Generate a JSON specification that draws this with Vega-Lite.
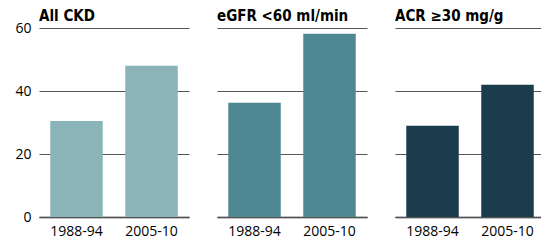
{
  "$schema": "https://vega.github.io/schema/vega-lite/v6.json",
  "padding": {"left": 14, "top": 9, "right": 0, "bottom": 0},
  "data": {"values": [
    {"panel": "All CKD", "period": "1988-94", "value": 30.5},
    {"panel": "All CKD", "period": "2005-10", "value": 48.0},
    {"panel": "eGFR <60 ml/min", "period": "1988-94", "value": 36.3},
    {"panel": "eGFR <60 ml/min", "period": "2005-10", "value": 58.2},
    {"panel": "ACR ≥30 mg/g", "period": "1988-94", "value": 29.0},
    {"panel": "ACR ≥30 mg/g", "period": "2005-10", "value": 42.0}
  ]},
  "facet": {
    "column": {
      "field": "panel", "type": "nominal",
      "sort": ["All CKD", "eGFR <60 ml/min", "ACR ≥30 mg/g"],
      "header": {
        "title": null,
        "labelAnchor": "start",
        "labelAlign": "left",
        "labelFont": "DejaVu Sans Condensed, Roboto, sans-serif",
        "labelFontWeight": "bold",
        "labelFontSize": 15,
        "labelColor": "#000000",
        "labelPadding": 4
      }
    }
  },
  "spacing": 28,
  "spec": {
    "width": 150,
    "height": 189,
    "mark": {"type": "bar"},
    "encoding": {
      "x": {
        "field": "period", "type": "nominal",
        "scale": {"paddingInner": 0.3, "paddingOuter": 0.15},
        "axis": {"title": null, "labelAngle": 0, "ticks": false, "labelPadding": 7, "domain": true, "domainColor": "#000000", "domainWidth": 1.5}
      },
      "y": {
        "field": "value", "type": "quantitative",
        "scale": {"domain": [0, 60], "nice": false},
        "axis": {"title": null, "values": [0, 20, 40, 60], "ticks": false, "domain": false, "labelPadding": 8, "grid": true, "gridColor": "#555555", "gridWidth": 1, "gridOpacity": 1}
      },
      "color": {
        "field": "panel", "type": "nominal",
        "scale": {"domain": ["All CKD", "eGFR <60 ml/min", "ACR ≥30 mg/g"], "range": ["#8bb4b8", "#4f8893", "#1a3c4d"]},
        "legend": null
      }
    }
  },
  "config": {
    "view": {"stroke": null},
    "axis": {"labelFont": "Open Sans", "labelFontSize": 14, "labelColor": "#000000"}
  }
}
